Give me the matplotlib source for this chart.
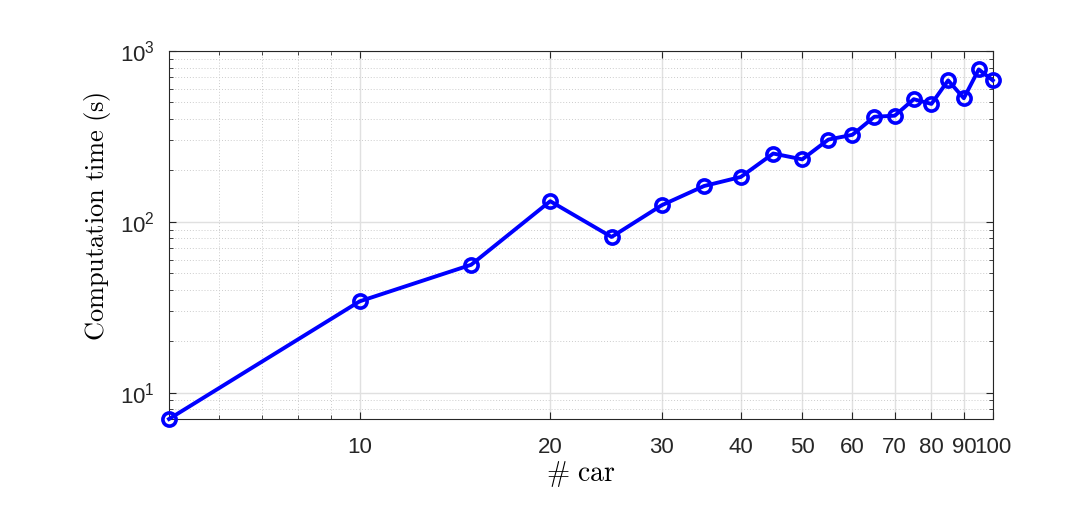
import matplotlib
matplotlib.use('Agg')
import matplotlib.pyplot as plt
from matplotlib.ticker import FixedLocator, NullFormatter, LogLocator, ScalarFormatter

plt.rcParams['font.family'] = ['Liberation Sans', 'DejaVu Sans']
plt.rcParams['mathtext.fontset'] = 'custom'
plt.rcParams['mathtext.rm'] = 'Liberation Sans'
plt.rcParams['mathtext.it'] = 'Liberation Sans'

# number of cars vs. computation time
cars = [5, 10, 15, 20, 25, 30, 35, 40, 45, 50, 55, 60, 65, 70, 75, 80, 85, 90, 95, 100]
comp_time = [7.0, 34.2, 56.0, 132, 81.5, 125, 162, 183, 251, 232, 303, 323, 412, 418, 522, 490, 673, 529, 780, 673]
xtick_vals = [10, 20, 30, 40, 50, 60, 70, 80, 90, 100]
xminor_vals = [6, 7, 8, 9]

fig = plt.figure(figsize=(10.71, 5.09), dpi=100)
ax = fig.add_axes([0.1578, 0.1768, 0.927 - 0.1578, 0.8998 - 0.1768])

ax.plot(cars, comp_time, '-o', color=(0, 0, 1), lw=2.8, ms=9.5, mew=2.6,
        mfc='none', clip_on=False, zorder=5)

ax.set_xscale('log')
ax.set_yscale('log')
ax.set_xlim(5, 100)
ax.set_ylim(7, 1000)

ax.xaxis.set_major_locator(FixedLocator(xtick_vals))
ax.xaxis.set_major_formatter(ScalarFormatter())
ax.xaxis.set_minor_locator(FixedLocator(xminor_vals))
ax.xaxis.set_minor_formatter(NullFormatter())
ax.yaxis.set_major_locator(LogLocator(base=10, numticks=10))
ax.yaxis.set_minor_locator(LogLocator(base=10, subs=range(2, 10), numticks=20))
ax.yaxis.set_minor_formatter(NullFormatter())

ax.grid(True, which='major', color='#e0e0e0', lw=1.0, ls='-')
ax.grid(True, which='minor', color='#cccccc', lw=0.7, ls=(0, (1, 2)))
ax.set_axisbelow(True)

ax.tick_params(which='both', direction='in', top=True, right=True,
               colors='#262626', labelsize=16, labelcolor='#262626')
ax.tick_params(which='major', length=5, width=0.8)
ax.tick_params(which='minor', length=3, width=0.6)
ax.tick_params(axis='x', pad=13)
ax.tick_params(axis='y', pad=10)
for s in ax.spines.values():
    s.set_color('#262626')
    s.set_linewidth(0.8)

ax.set_xlabel(r'$\#\ \mathrm{car}$', fontsize=20, math_fontfamily='cm', labelpad=1)
ax.set_ylabel(r'$\mathrm{Computation\ time\ (s)}$', fontsize=19, math_fontfamily='cm')
ax.yaxis.set_label_coords(-0.068, 0.55)

fig.savefig('out.png', dpi=100)
